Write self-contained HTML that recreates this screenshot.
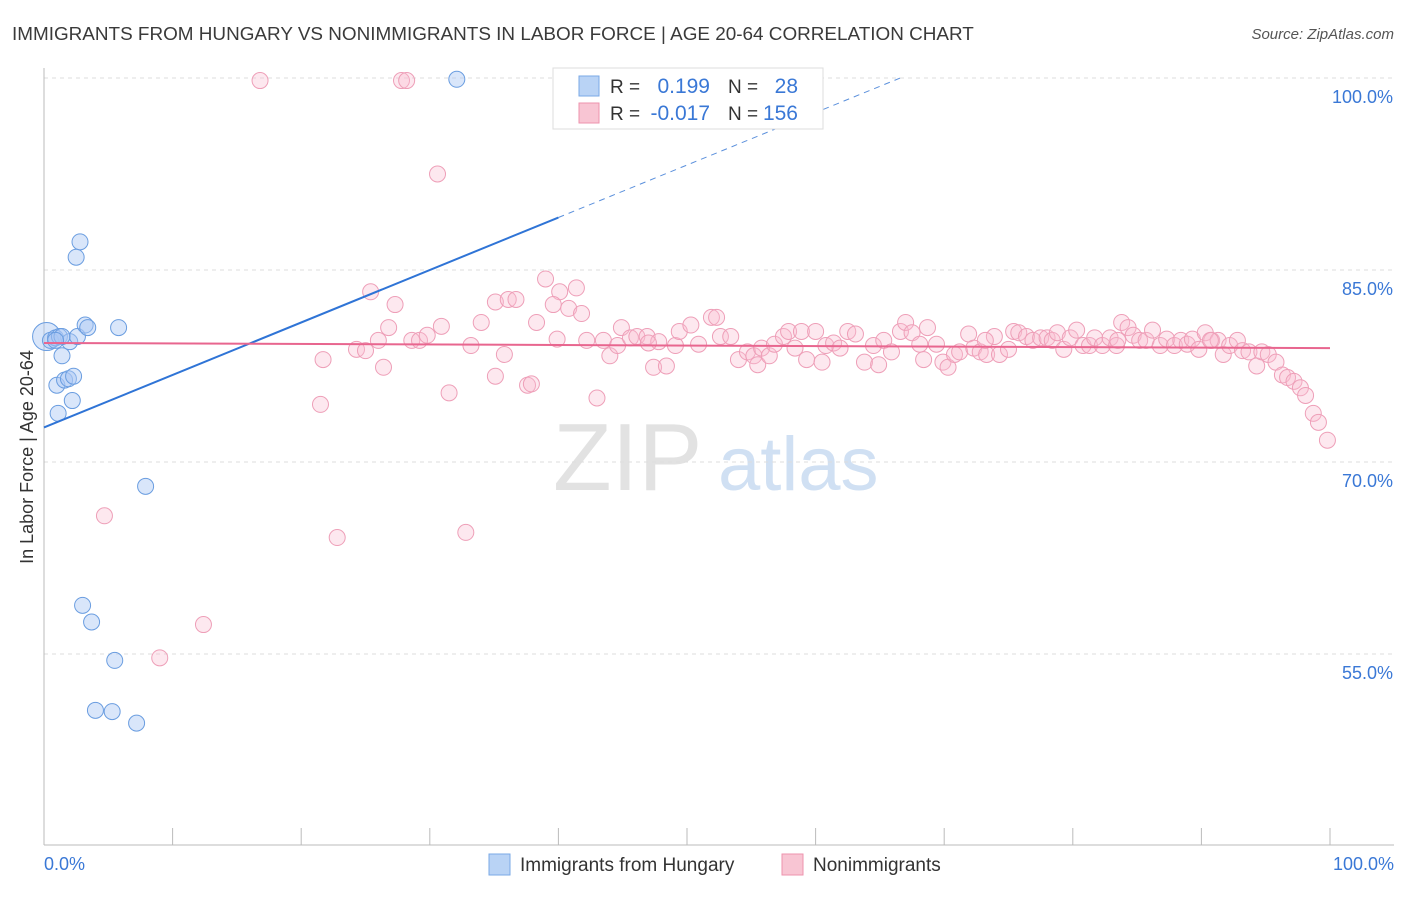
<!DOCTYPE html>
<html><head><meta charset="utf-8"><style>
body{margin:0;background:#fff;font-family:"Liberation Sans",sans-serif;}
svg text{font-family:"Liberation Sans",sans-serif;}
</style></head><body>
<svg id="chart" width="1406" height="892" xmlns="http://www.w3.org/2000/svg">
<text x="12" y="40" font-size="18.9" fill="#3a3a3a">IMMIGRANTS FROM HUNGARY VS NONIMMIGRANTS IN LABOR FORCE | AGE 20-64 CORRELATION CHART</text>
<text x="1394" y="39" font-size="15" fill="#555" text-anchor="end" font-style="italic">Source: ZipAtlas.com</text>
<text x="33" y="457" font-size="18" fill="#333" text-anchor="middle" transform="rotate(-90 33 457)">In Labor Force | Age 20-64</text>
<g><text x="553" y="490" font-size="96" fill="#e2e2e2" font-family="Liberation Serif, serif">ZIP</text><text x="718" y="490" font-size="76" fill="#d0e0f3">atlas</text></g>
<g id="grid"></g><g id="marks"></g>
<g>
<rect x="553" y="68" width="270" height="61" fill="#fff" stroke="#ddd"/>
<rect x="579" y="76" width="20" height="20" fill="#b9d3f5" stroke="#7aa8e6"/>
<rect x="579" y="103" width="20" height="20" fill="#f8c5d3" stroke="#ee93ae"/>
<text x="610" y="93" font-size="19" fill="#333">R =</text><text x="710" y="93" font-size="21" fill="#3a78d6" text-anchor="end">0.199</text>
<text x="728" y="93" font-size="19" fill="#333">N =</text><text x="798" y="93" font-size="21" fill="#3a78d6" text-anchor="end">28</text>
<text x="610" y="120" font-size="19" fill="#333">R =</text><text x="710" y="120" font-size="21" fill="#3a78d6" text-anchor="end">-0.017</text>
<text x="728" y="120" font-size="19" fill="#333">N =</text><text x="798" y="120" font-size="21" fill="#3a78d6" text-anchor="end">156</text>
</g>
<g>
<rect x="489" y="854" width="21" height="21" fill="#b9d3f5" stroke="#7aa8e6"/><text x="520" y="871" font-size="19" fill="#333">Immigrants from Hungary</text>
<rect x="782" y="854" width="21" height="21" fill="#f8c5d3" stroke="#ee93ae"/><text x="813" y="871" font-size="19" fill="#333">Nonimmigrants</text>
</g>
</svg>
<script>
const yTicks=[100,85,70,55];
const yTickLabels=["100.0%","85.0%","70.0%","55.0%"];
const blueX=[0.2,0.5,0.9,1.2,2.0,2.6,1.4,2.8,2.5,3.2,3.4,5.8,1.4,1.0,1.6,1.9,2.3,2.2,1.1,7.9,3.0,3.7,5.5,4.0,5.3,7.2,32.1,0.9];
const blueY=[79.8,79.5,79.7,79.8,79.4,79.8,79.8,87.2,86.0,80.7,80.5,80.5,78.3,76.0,76.4,76.5,76.7,74.8,73.8,68.1,58.8,57.5,54.5,50.6,50.5,49.6,99.9,79.5];
const pinkX=[16.8,27.8,28.2,30.6,39.0,41.4,40.1,25.4,27.3,35.1,36.1,36.7,39.6,40.8,41.8,26.8,34.0,30.9,38.3,21.7,21.5,26.4,24.3,25.0,26.0,28.6,29.2,29.8,33.2,35.8,35.1,37.6,37.9,31.5,43.0,39.9,42.2,43.5,44.0,44.6,44.9,45.6,46.1,46.9,47.4,47.8,48.4,49.1,49.4,50.3,50.9,51.9,52.3,52.6,53.4,54.0,54.7,55.2,55.5,55.8,56.4,56.8,57.5,57.9,58.4,58.9,59.3,60.0,60.5,60.8,61.4,61.9,62.5,63.1,63.8,64.5,64.9,65.3,65.9,66.6,67.0,67.5,68.1,68.4,68.7,69.4,69.9,70.3,70.8,71.2,71.9,72.3,72.8,73.3,73.9,74.3,75.0,75.4,75.8,76.4,76.9,77.5,78.0,78.4,78.8,79.3,79.8,80.3,80.8,81.3,81.7,82.3,82.9,83.4,83.8,84.3,84.7,85.2,85.7,86.2,86.8,87.3,87.9,88.4,88.9,89.3,89.8,90.3,90.8,91.3,91.7,92.2,92.8,93.2,93.7,94.3,94.7,95.2,95.8,96.3,96.7,97.2,97.7,98.1,98.7,99.1,99.8,4.7,22.8,32.8,12.4,9.0,83.5,73.2,90.7,47.0];
const pinkY=[99.8,99.8,99.8,92.5,84.3,83.6,83.3,83.3,82.3,82.5,82.7,82.7,82.3,82.0,81.6,80.5,80.9,80.6,80.9,78.0,74.5,77.4,78.8,78.7,79.5,79.5,79.5,79.9,79.1,78.4,76.7,76.0,76.1,75.4,75.0,79.6,79.5,79.5,78.3,79.1,80.5,79.7,79.8,79.8,77.4,79.4,77.5,79.1,80.2,80.7,79.2,81.3,81.3,79.8,79.8,78.0,78.6,78.3,77.6,78.9,78.3,79.2,79.8,80.2,78.9,80.2,78.0,80.2,77.8,79.1,79.3,78.9,80.2,80.0,77.8,79.1,77.6,79.5,78.6,80.2,80.9,80.1,79.2,78.0,80.5,79.2,77.8,77.4,78.4,78.6,80.0,78.9,78.6,78.4,79.8,78.4,78.8,80.2,80.1,79.8,79.5,79.7,79.7,79.5,80.1,78.8,79.7,80.3,79.1,79.1,79.7,79.1,79.7,79.1,80.9,80.5,79.9,79.5,79.5,80.3,79.1,79.6,79.1,79.5,79.2,79.6,78.8,80.1,79.5,79.5,78.4,79.1,79.5,78.7,78.6,77.5,78.6,78.4,77.8,76.8,76.6,76.3,75.8,75.2,73.8,73.1,71.7,65.8,64.1,64.5,57.3,54.7,79.5,79.5,79.5,79.3];
const blueTrend=[72.7,0.41];
const pinkTrend=[79.3,-0.004];
const X=v=>44+v*12.86, Y=v=>78+(100-v)*12.8;
const NS="http://www.w3.org/2000/svg";
function mk(t,a,p){const e=document.createElementNS(NS,t);for(const k in a)e.setAttribute(k,a[k]);p.appendChild(e);return e;}
const grid=document.getElementById('grid'), marks=document.getElementById('marks');
yTicks.forEach((t,i)=>{
 const g=mk('line',{x1:44,x2:1394,y1:Y(t),y2:Y(t),stroke:'#ddd','stroke-dasharray':'4,4'},grid);
 
 
 const l=mk('text',{x:1393,y:Y(t)+25,'font-size':18,fill:'#3a78d6','text-anchor':'end'},grid);l.textContent=yTickLabels[i];
 
 
});
const ax=mk('line',{x1:44,x2:44,y1:68,y2:845,stroke:'#bbb'},grid);


const bx=mk('line',{x1:44,x2:1394,y1:845,y2:845,stroke:'#bbb'},grid);


for(let i=0;i<=10;i++){const tk=mk('line',{x1:X(i*10),x2:X(i*10),y1:828,y2:845,stroke:'#bbb'},grid);
 
 }
const x0=mk('text',{x:44,y:870,'font-size':18,fill:'#3a78d6'},grid);x0.textContent='0.0%';


const x1=mk('text',{x:1394,y:870,'font-size':18,fill:'#3a78d6','text-anchor':'end'},grid);x1.textContent='100.0%';


pinkX.forEach((v,i)=>{const c=mk('circle',{cx:X(v),cy:Y(pinkY[i]),r:8,fill:'rgba(248,190,208,0.35)',stroke:'#ee9fb8','stroke-width':1},marks);
 
 });
blueX.forEach((v,i)=>{const c=mk('circle',{cx:X(v),cy:Y(blueY[i]),r:i==0?14:8,fill:'rgba(170,200,245,0.45)',stroke:'#6a9de0','stroke-width':1},marks);
 
 });
const bEnd=(100-blueTrend[0])/blueTrend[1];
const t1=mk('line',{x1:X(0),y1:Y(blueTrend[0]),x2:X(40),y2:Y(blueTrend[0]+40*blueTrend[1]),stroke:'#2f74d6','stroke-width':2},marks);


const t2=mk('line',{x1:X(40),y1:Y(blueTrend[0]+40*blueTrend[1]),x2:X(bEnd),y2:Y(100),stroke:'#5b90dc','stroke-width':1,'stroke-dasharray':'6,5'},marks);


const t3=mk('line',{x1:X(0),y1:Y(pinkTrend[0]),x2:X(100),y2:Y(pinkTrend[0]+100*pinkTrend[1]),stroke:'#e8668f','stroke-width':2},marks);


</script>
</body></html>
